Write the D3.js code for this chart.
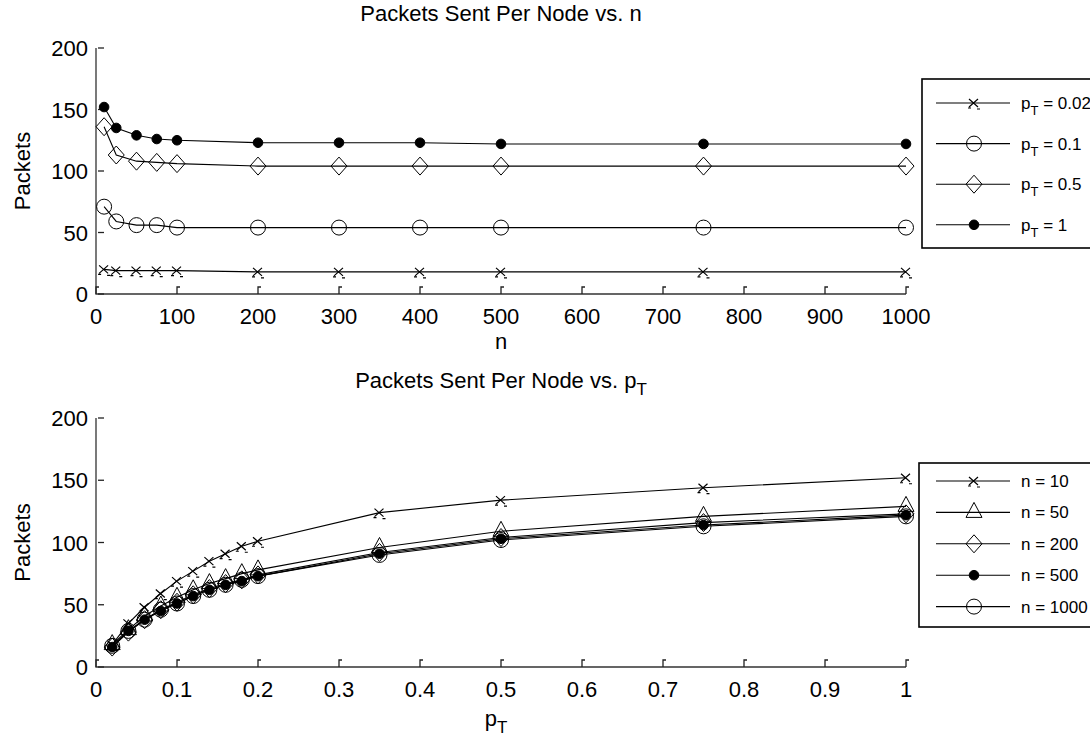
<!DOCTYPE html>
<html>
<head>
<meta charset="utf-8">
<script src="https://cdn.jsdelivr.net/npm/d3@7"></script>
<style>
  body { margin: 0; background: #fff; }
  text { font-family: "Liberation Sans", Arial, sans-serif; fill: #000; }
</style>
</head>
<body>
<svg id="chart" width="1090" height="740"></svg>
<script>
// ---- data: top panel (packets vs n) ----
var nValues = [10, 25, 50, 75, 100, 200, 300, 400, 500, 750, 1000];
var pt002 = [20, 19, 19, 19, 19, 18, 18, 18, 18, 18, 18];
var pt01  = [71, 59, 56, 56, 54, 54, 54, 54, 54, 54, 54];
var pt05  = [136, 113, 108, 107, 106, 104, 104, 104, 104, 104, 104];
var pt1   = [152, 135, 129, 126, 125, 123, 123, 123, 122, 122, 122];
var nTicks = [0, 100, 200, 300, 400, 500, 600, 700, 800, 900, 1000];

// ---- data: bottom panel (packets vs p_T) ----
var pValues = [0.02, 0.04, 0.06, 0.08, 0.1, 0.12, 0.14, 0.16, 0.18, 0.2, 0.35, 0.5, 0.75, 1];
var n10   = [18, 35, 48, 59, 69, 77, 85, 91, 97, 101, 124, 134, 144, 152];
var n50   = [18, 30, 41, 49, 56, 62, 67, 71, 75, 78, 96, 109, 121, 129];
var n200  = [16, 28, 38, 46, 52, 58, 63, 67, 70, 74, 92, 104, 116, 123];
var n500  = [16, 29, 38, 45, 51, 57, 62, 66, 69, 73, 91, 103, 114, 122];
var n1000 = [17, 29, 38, 46, 51, 57, 62, 66, 70, 73, 90, 102, 113, 121];
var pTicks = [0, 0.1, 0.2, 0.3, 0.4, 0.5, 0.6, 0.7, 0.8, 0.9, 1];

var yTicks = [0, 50, 100, 150, 200];

var svg = d3.select("#chart");

// marker drawing, roughly like the matlab ones
function drawMarker(g, type, x, y) {
    if (type === "x") {
        g.append("path")
            .attr("d", "M" + (x - 5) + "," + (y - 4) + "L" + (x + 4) + "," + (y + 4) +
                       "M" + (x + 4) + "," + (y - 4) + "L" + (x - 5) + "," + (y + 4) +
                       "M" + (x - 6) + "," + (y + 5) + "h3" +
                       "M" + (x + 3) + "," + (y + 6) + "h3")
            .attr("fill", "none").attr("stroke", "#000").attr("stroke-width", 1.2);
    } else if (type === "o") {
        g.append("circle").attr("cx", x).attr("cy", y).attr("r", 7.5)
            .attr("fill", "none").attr("stroke", "#000").attr("stroke-width", 1);
    } else if (type === "d") {
        g.append("path")
            .attr("d", "M" + x + "," + (y - 9) + "L" + (x + 8) + "," + y + "L" + x + "," + (y + 9) + "L" + (x - 8) + "," + y + "Z")
            .attr("fill", "none").attr("stroke", "#000").attr("stroke-width", 1);
    } else if (type === "dot") {
        g.append("circle").attr("cx", x).attr("cy", y).attr("r", 4.8)
            .attr("fill", "#000").attr("stroke", "#000");
    } else if (type === "t") {
        g.append("path")
            .attr("d", "M" + x + "," + (y - 10) + "L" + (x + 8) + "," + (y + 5) + "L" + (x - 8) + "," + (y + 5) + "Z")
            .attr("fill", "none").attr("stroke", "#000").attr("stroke-width", 1);
    }
}

// one panel: axes, series, legend
function panel(opt) {
    var x = d3.scaleLinear().domain(opt.xDomain).range([96, 906]);
    var y = d3.scaleLinear().domain([0, 200]).range([opt.y0, opt.y200]);
    var g = svg.append("g");

    // axis lines (left + bottom only)
    g.append("path")
        .attr("d", "M96," + opt.y200 + "V" + opt.y0 + "H906")
        .attr("fill", "none").attr("stroke", "#333").attr("stroke-width", 1.3);

    // y ticks, pointing inward
    yTicks.forEach(function(t) {
        g.append("line").attr("x1", 98).attr("x2", 104)
            .attr("y1", y(t)).attr("y2", y(t))
            .attr("stroke", "#222").attr("stroke-width", 1.3);
        g.append("text").attr("x", 88).attr("y", y(t) + 8)
            .attr("text-anchor", "end").attr("font-size", 22).text(t);
    });

    // x ticks with the little hook
    opt.xTicks.forEach(function(t) {
        g.append("path")
            .attr("d", "M" + x(t) + "," + opt.y0 + "V" + (opt.y0 - 7) + "h3")
            .attr("fill", "none").attr("stroke", "#222").attr("stroke-width", 1.3);
        g.append("text").attr("x", x(t)).attr("y", opt.y0 + 30)
            .attr("text-anchor", "middle").attr("font-size", 22).text(t);
    });

    g.append("text")
        .attr("transform", "translate(30," + ((opt.y0 + opt.y200) / 2) + ") rotate(-90)")
        .attr("text-anchor", "middle").attr("font-size", 22).text("Packets");

    var line = d3.line()
        .x(function(d) { return x(d[0]); })
        .y(function(d) { return y(d[1]); });

    opt.series.forEach(function(s) {
        var pts = opt.xs.map(function(v, i) { return [v, s.values[i]]; });
        g.append("path").attr("d", line(pts))
            .attr("fill", "none").attr("stroke", "#000").attr("stroke-width", 1.1);
        pts.forEach(function(p) { drawMarker(g, s.marker, x(p[0]), y(p[1])); });
    });

    // legend
    var lg = svg.append("g");
    lg.append("rect")
        .attr("x", opt.legend.x).attr("y", opt.legend.y)
        .attr("width", 1100 - opt.legend.x).attr("height", opt.legend.h)
        .attr("fill", "#fff").attr("stroke", "#000").attr("stroke-width", 1.6);
    opt.series.forEach(function(s, i) {
        var ly = opt.legend.y0 + i * opt.legend.step;
        lg.append("line").attr("x1", 936).attr("x2", 1010)
            .attr("y1", ly).attr("y2", ly)
            .attr("stroke", "#000").attr("stroke-width", 1.1);
        drawMarker(lg, s.marker, 974, ly);
        var t = lg.append("text").attr("x", 1021).attr("y", ly + 6).attr("font-size", 17);
        s.label(t);
    });
}

function ptLabel(v) {
    return function(t) {
        t.append("tspan").text("p");
        t.append("tspan").attr("dy", 6).attr("font-size", 13).text("T");
        t.append("tspan").attr("dy", -6).text(" = " + v);
    };
}
function nLabel(v) {
    return function(t) { t.text("n = " + v); };
}

panel({
    xDomain: [0, 1000], xTicks: nTicks, xs: nValues,
    y0: 294, y200: 48,
    series: [
        { values: pt002, marker: "x", label: ptLabel("0.02") },
        { values: pt01, marker: "o", label: ptLabel("0.1") },
        { values: pt05, marker: "d", label: ptLabel("0.5") },
        { values: pt1, marker: "dot", label: ptLabel("1") }
    ],
    legend: { x: 922, y: 79, h: 169, y0: 103, step: 40.6 }
});

panel({
    xDomain: [0, 1], xTicks: pTicks, xs: pValues,
    y0: 667, y200: 418,
    series: [
        { values: n10, marker: "x", label: nLabel(10) },
        { values: n50, marker: "t", label: nLabel(50) },
        { values: n200, marker: "d", label: nLabel(200) },
        { values: n500, marker: "dot", label: nLabel(500) },
        { values: n1000, marker: "o", label: nLabel(1000) }
    ],
    legend: { x: 919, y: 463, h: 164, y0: 481, step: 31.4 }
});

// titles and x labels
svg.append("text").attr("x", 501).attr("y", 21).attr("text-anchor", "middle")
    .attr("font-size", 22).text("Packets Sent Per Node vs. n");
svg.append("text").attr("x", 501).attr("y", 349).attr("text-anchor", "middle")
    .attr("font-size", 22).text("n");

var t2 = svg.append("text").attr("x", 501).attr("y", 388).attr("text-anchor", "middle")
    .attr("font-size", 22);
t2.append("tspan").text("Packets Sent Per Node vs. p");
t2.append("tspan").attr("dy", 7).attr("font-size", 17).text("T");

var xl = svg.append("text").attr("x", 496).attr("y", 726).attr("text-anchor", "middle")
    .attr("font-size", 22);
xl.append("tspan").text("p");
xl.append("tspan").attr("dy", 7).attr("font-size", 17).text("T");
</script>
</body>
</html>
